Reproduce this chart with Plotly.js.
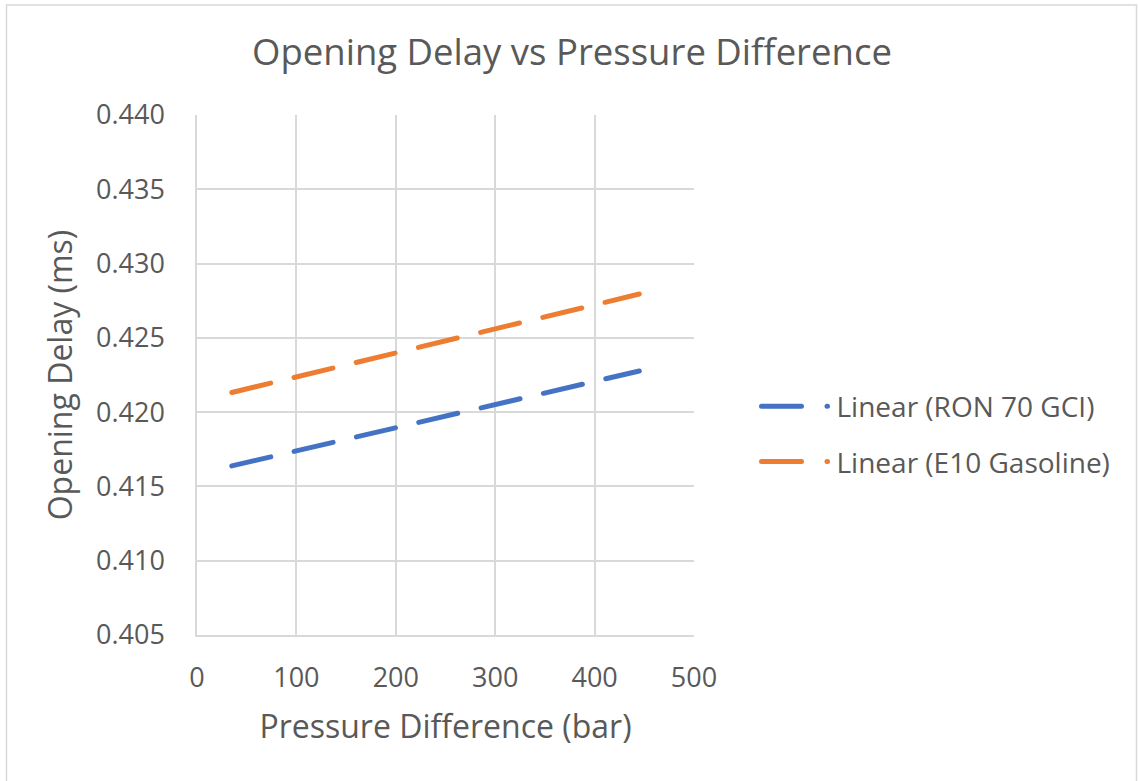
<!DOCTYPE html>
<html>
<head>
<meta charset="utf-8">
<script src="https://cdn.plot.ly/plotly-3.0.1.min.js"></script>
<style>
html, body { margin: 0; padding: 0; background: #fff; }
#chart { width: 1138px; height: 781px; }
#chart .scatterlayer .js-line { stroke-linecap: round; }
#chart .legend .js-line { stroke-linecap: round; stroke-dasharray: 40px, 25.5px, 0.5px, 300px !important; }
</style>
</head>
<body>
<div id="chart"></div>
<script>
// Data (linear trendlines)
const pressureDiff = [35, 445];
const ron70GCI = [0.41638, 0.42277];
const e10Gasoline = [0.42132, 0.42795];
const seriesNames = ['Linear (RON 70 GCI)', 'Linear (E10 Gasoline)'];
const seriesColors = ['#4472C4', '#ED7D31'];
const xTicks = [0, 100, 200, 300, 400, 500];
const yTicks = [0.405, 0.410, 0.415, 0.420, 0.425, 0.430, 0.435, 0.440];

const FONT = '"Open Sans", "Noto Sans", sans-serif';
const TXT = '#595959';
const GRID = '#d9d9d9';

const traces = [ron70GCI, e10Gasoline].map((ys, i) => ({
  x: pressureDiff,
  y: ys,
  type: 'scatter',
  mode: 'lines',
  name: seriesNames[i],
  legendgroup: 'g' + i,
  line: { color: seriesColors[i], width: 5, dash: '40px,24px' },
  hoverinfo: 'x+y+name'
}));

const L = 197, R = 694, T = 115, B = 635, W = 1138, H = 781;
const pw = R - L, ph = B - T;
const px = v => (v - L) / pw;
const py = v => (B - v) / ph;

const layout = {
  width: W, height: H,
  margin: { l: L, r: W - R, t: T, b: H - B, pad: 0 },
  paper_bgcolor: '#fff',
  plot_bgcolor: '#fff',
  font: { family: FONT, color: TXT },
  title: {
    text: 'Opening Delay vs Pressure Difference',
    font: { family: FONT, size: 36.5, color: TXT },
    x: 572 / W, xref: 'container', xanchor: 'center',
    y: 1 - 52 / H, yref: 'container', yanchor: 'middle'
  },
  xaxis: {
    range: [0, 500],
    tickvals: xTicks,
    ticktext: xTicks.map(String),
    showgrid: true, gridcolor: GRID, gridwidth: 1.5,
    zeroline: false,
    showline: true, linecolor: GRID, linewidth: 1.5,
    ticks: '', ticklabelstandoff: 18,
    tickfont: { family: FONT, size: 27, color: TXT },
    title: { text: 'Pressure Difference (bar)', font: { family: FONT, size: 32, color: TXT }, standoff: 21 },
    fixedrange: true
  },
  yaxis: {
    range: [0.405, 0.440],
    tickvals: yTicks,
    ticktext: yTicks.map(v => v.toFixed(3)),
    showgrid: true, gridcolor: GRID, gridwidth: 1.5,
    zeroline: false,
    showline: true, linecolor: GRID, linewidth: 1.5,
    ticks: '', ticklabelstandoff: 25,
    tickfont: { family: FONT, size: 27, color: TXT },
    title: { text: 'Opening Delay (ms)', font: { family: FONT, size: 32, color: TXT }, standoff: 14 },
    fixedrange: true
  },
  showlegend: true,
  legend: {
    x: px(756.5), xanchor: 'left',
    y: py(434), yanchor: 'middle',
    font: { family: FONT, size: 28, color: TXT },
    traceorder: 'grouped',
    tracegroupgap: 16,
    bgcolor: 'rgba(0,0,0,0)',
    itemwidth: 70
  },
  shapes: [{
    type: 'rect', xref: 'paper', yref: 'paper', layer: 'below',
    x0: px(6.5), x1: px(1136.5), y0: py(800), y1: py(5),
    line: { color: GRID, width: 1.5 }, fillcolor: 'rgba(0,0,0,0)'
  }]
};

function stretchLegendSamples() {
  document.querySelectorAll('#chart .legend .js-line').forEach(p => p.setAttribute('d', 'M5,0h66'));
}

Plotly.newPlot('chart', traces, layout, { displayModeBar: false }).then(gd => {
  stretchLegendSamples();
  gd.on('plotly_afterplot', stretchLegendSamples);
});
</script>
</body>
</html>
